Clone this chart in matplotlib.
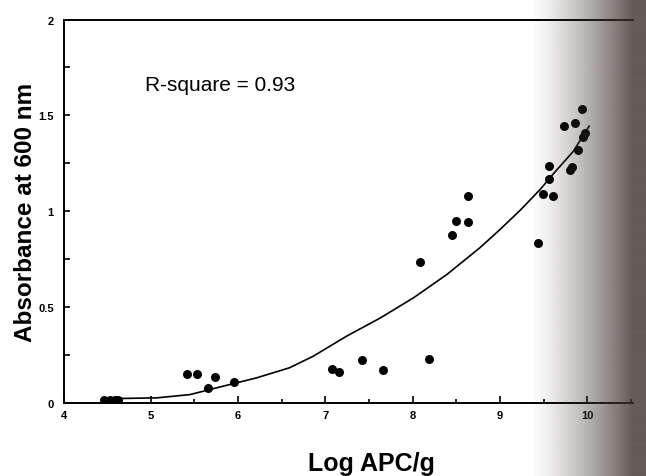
"""
Absorbance at 600 nm vs Log APC/g  (scatter + fitted curve, R-square = 0.93)
"""

import matplotlib
matplotlib.use("Agg")
import matplotlib.pyplot as plt
import numpy as np
from matplotlib.ticker import MultipleLocator

plt.rcParams["font.family"] = ["Liberation Sans", "DejaVu Sans"]

# ── data ──────────────────────────────────────────────────────────────────────
log_apc = [4.46, 4.53, 4.59, 4.62,
           5.41, 5.53, 5.74, 5.65, 5.95,
           7.08, 7.15, 7.42, 7.66, 8.19,
           8.08, 8.45, 8.49, 8.63, 8.63,
           9.44, 9.49, 9.61, 9.56, 9.56, 9.80, 9.82, 9.89,
           9.73, 9.86, 9.94, 9.95, 9.97]
absorbance = [0.018, 0.018, 0.018, 0.018,
              0.149, 0.149, 0.137, 0.076, 0.110,
              0.180, 0.163, 0.222, 0.173, 0.227,
              0.735, 0.877, 0.950, 0.942, 1.082,
              0.832, 1.088, 1.079, 1.167, 1.235, 1.214, 1.232, 1.317,
              1.444, 1.458, 1.535, 1.389, 1.410]

fit_x = [4.45, 5.07, 5.45, 5.83, 6.21, 6.59, 6.86, 7.24, 7.63,
         8.01, 8.39, 8.77, 9.00, 9.23, 9.46, 9.61, 9.84, 10.02]
fit_y = [0.022, 0.027, 0.044, 0.088, 0.131, 0.184, 0.244, 0.348, 0.444,
         0.549, 0.670, 0.810, 0.905, 1.005, 1.114, 1.195, 1.313, 1.444]

x_ticks = [4, 5, 6, 7, 8, 9, 10]
x_labels = ["4", "5", "6", "7", "8", "9", "10"]
y_ticks = [0, 0.5, 1, 1.5, 2]
y_labels = ["0", "0.5", "1", "1.5", "2"]

r_square_text = "R-square = 0.93"

# ── figure ───────────────────────────────────────────────────────────────────
fig = plt.figure(figsize=(6.46, 4.77), dpi=100)
fig.patch.set_facecolor("white")
ax = fig.add_axes([0.0983, 0.153, 0.8816, 0.804])

ax.scatter(log_apc, absorbance, s=42, color="black", zorder=3, linewidths=0)
ax.plot(fit_x, fit_y, color="black", linewidth=1.2, zorder=2)

ax.set_xlim(4, 10.523)
ax.set_ylim(0, 2)

ax.set_xticks(x_ticks)
ax.set_xticklabels(x_labels)
ax.set_yticks(y_ticks)
ax.set_yticklabels(y_labels)
ax.xaxis.set_minor_locator(MultipleLocator(0.5))
ax.yaxis.set_minor_locator(MultipleLocator(0.25))

ax.tick_params(axis="x", which="major", direction="in", length=5, width=1.2,
               pad=5, labelsize=8)
ax.tick_params(axis="x", which="minor", direction="in", length=3, width=1.2)
ax.tick_params(axis="y", which="both", direction="in", length=4, width=1.2,
               pad=7, labelsize=8)
for lbl in ax.get_xticklabels() + ax.get_yticklabels():
    lbl.set_fontweight("bold")

for side in ("left", "bottom", "top"):
    ax.spines[side].set_linewidth(1.4)
ax.spines["right"].set_visible(False)

ax.set_xlabel("Log APC/g", fontsize=18, fontweight="bold")
ax.xaxis.set_label_coords(0.54, -0.125)
ax.set_ylabel("Absorbance at 600 nm", fontsize=17.5, fontweight="bold")
ax.yaxis.set_label_coords(-0.0465, 0.5)

ax.text(4.93, 1.631, r_square_text, fontsize=15, ha="left", va="baseline")

# ── scan shadow on the right edge ─────────────────────────────────────────────
shade = fig.add_axes([0, 0, 1, 1], zorder=10)
shade.set_axis_off()
cols = np.arange(646)
ramp = np.clip((cols - 530) / 102.0, 0, 1) ** 1.3 * 0.8
rgba = np.zeros((1, 646, 4))
rgba[..., 0] = 60 / 255
rgba[..., 1] = 50 / 255
rgba[..., 2] = 45 / 255
rgba[..., 3] = ramp
shade.imshow(rgba, aspect="auto", extent=[0, 1, 0, 1], interpolation="bilinear")

fig.savefig("out.png", dpi=100, facecolor=fig.get_facecolor())
